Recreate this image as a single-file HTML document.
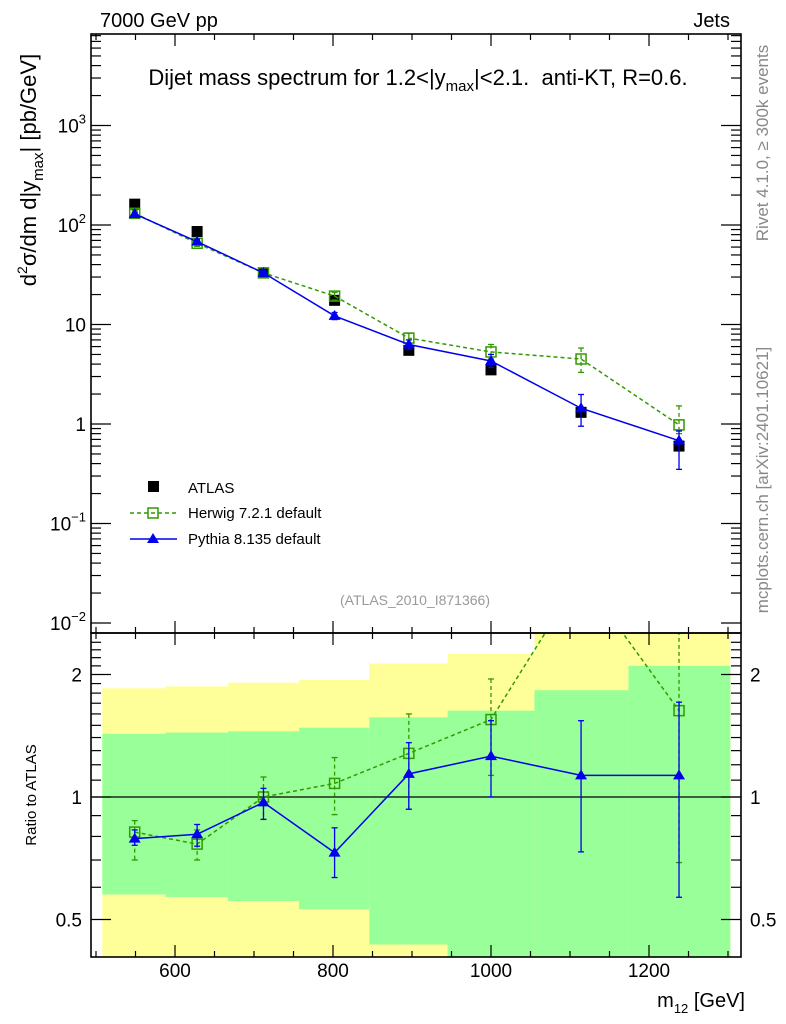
<!DOCTYPE html>
<html><head><meta charset="utf-8"><style>
body{margin:0;background:#fff;}
svg{display:block;font-family:"Liberation Sans",sans-serif;}
</style></head><body>
<svg id="c" width="786" height="1024" xmlns="http://www.w3.org/2000/svg">
<text x="100" y="27" font-size="20">7000 GeV pp</text>
<text x="730" y="27" font-size="20" text-anchor="end">Jets</text>
<text x="418" y="85" font-size="22" text-anchor="middle">Dijet mass spectrum for 1.2&lt;|y<tspan font-size="15" dy="6">max</tspan><tspan dy="-6">|&lt;2.1.&#160;&#160;anti-KT, R=0.6.</tspan></text>
<text transform="translate(36,170) rotate(-90)" font-size="22" text-anchor="middle">d<tspan font-size="14" dy="-9">2</tspan><tspan dy="9">σ/dm d|y</tspan><tspan font-size="15" dy="7">max</tspan><tspan dy="-7">| [pb/GeV]</tspan></text>
<text transform="translate(36,795) rotate(-90)" font-size="15" text-anchor="middle">Ratio to ATLAS</text>
<text transform="translate(768,143) rotate(-90)" font-size="17" fill="#888" text-anchor="middle">Rivet 4.1.0, ≥ 300k events</text>
<text transform="translate(768,480) rotate(-90)" font-size="17" fill="#888" text-anchor="middle">mcplots.cern.ch [arXiv:2401.10621]</text>
<text x="415" y="605" font-size="14" fill="#999" text-anchor="middle">(ATLAS_2010_I871366)</text>
<text x="745" y="1007" font-size="20" text-anchor="end">m<tspan font-size="13" dy="6">12</tspan><tspan dy="-6"> [GeV]</tspan></text>
<g>
<rect x="148" y="481" width="11" height="11" fill="#000"/>
<text x="188" y="493" font-size="15">ATLAS</text>
<line x1="130" y1="513" x2="177" y2="513" stroke="#339900" stroke-width="1.5" stroke-dasharray="4,3"/>
<rect x="148" y="508" width="10" height="10" fill="none" stroke="#339900" stroke-width="1.5"/>
<text x="188" y="518" font-size="15">Herwig 7.2.1 default</text>
<line x1="130" y1="539" x2="177" y2="539" stroke="#0000ee" stroke-width="1.5"/>
<path d="M153,533 L159,543 L147,543 Z" fill="#0000ee"/>
<text x="188" y="544" font-size="15">Pythia 8.135 default</text>
</g>
</svg>
<script>
const masses=[549,628,712,802,896,1000,1114,1238];
const atlas=[162,86,33,17.5,5.5,3.5,1.31,0.60];
const herwig=[131,65.5,33,19.3,7.3,5.3,4.5,0.98];
const herwigHi=[140,70,35,21,8.2,6.3,5.8,1.52];
const herwigLo=[122,61,31,17.6,6.4,4.5,3.3,0.8];
const pythia=[129,68,33,12.2,6.3,4.3,1.44,0.68];
const pythiaHi=[135,72,35,13.2,7,5,1.98,0.85];
const pythiaLo=[123,64,31,11.2,5.6,3.7,0.95,0.35];
const binEdges=[508,588,667,757,846,945,1055,1174,1303];
const yellowHi=[1.85,1.87,1.91,1.94,2.13,2.25,3,3];
const greenHi=[1.43,1.44,1.45,1.48,1.57,1.63,1.83,2.10];
const greenLo=[0.576,0.568,0.555,0.53,0.434,0.3,0.3,0.3];
const yellowLo=[0.3,0.3,0.3,0.3,0.3,0.3,0.3,0.3];
const rPythia=[0.79,0.81,0.97,0.73,1.14,1.26,1.13,1.13];
const rPythiaHi=[0.83,0.856,1.05,0.84,1.36,1.54,1.54,1.71];
const rPythiaLo=[0.761,0.757,0.881,0.634,0.933,1.0,0.733,0.567];
const rHerwig=[0.82,0.766,1.0,1.08,1.28,1.55,3.5,1.63];
const rHerwigHi=[0.875,0.83,1.12,1.25,1.6,1.95,4,3];
const rHerwigLo=[0.70,0.70,0.881,0.905,0.933,1.13,3,0.69];
const xTicks=[600,800,1000,1200];
const mainTicks=[["10","3"],["10","2"],["10",""],["1",""],["10","−1"],["10","−2"]];
const mainTickVals=[1000,100,10,1,0.1,0.01];
const ratioTicks=["2","1","0.5"];
const ratioTickVals=[2,1,0.5];

const svg=document.getElementById('c');
const NS='http://www.w3.org/2000/svg';
const L=91,R=741,T=34,MB=633,RB=957;
const xs=m=>175+(m-600)*0.79;
const ym=v=>424-99.5*Math.log10(v);
const yrRaw=r=>797-122.5*Math.log2(r);
function mk(tag,attrs,parent){const e=document.createElementNS(NS,tag);for(const k in attrs)e.setAttribute(k,attrs[k]);(parent||svg).appendChild(e);return e;}

const bands=mk('g',{});


for(let i=0;i<8;i++){
  const x1=xs(binEdges[i]),x2=xs(binEdges[i+1]);
  const top=Math.max(MB,yrRaw(yellowHi[i])),bot=Math.min(RB,yrRaw(yellowLo[i]));
  const y=mk('rect',{x:x1,y:top,width:x2-x1,height:bot-top,fill:'#ffff99'},bands);
  
  
  const gt=Math.max(MB,yrRaw(greenHi[i])),gb=Math.min(RB,yrRaw(greenLo[i]));
  const g=mk('rect',{x:x1,y:gt,width:x2-x1,height:gb-gt,fill:'#99ff99'},bands);
  
  
}
const one=mk('line',{x1:L,x2:R,y1:yrRaw(1),y2:yrRaw(1),stroke:'#000','stroke-width':1.2});



const defs=mk('defs',{});
const cp=mk('clipPath',{id:'rc'},defs);mk('rect',{x:L,y:MB,width:R-L,height:RB-MB},cp);

function series(vals,hi,lo,yf,color,dash,marker,name,clip){
  const g=mk('g',clip?{'clip-path':'url(#rc)'}:{});
  
  
  if(color){
    const pts=masses.map((m,i)=>xs(m)+','+yf(vals[i])).join(' ');
    mk('polyline',{points:pts,fill:'none',stroke:color,'stroke-width':1.5,'stroke-dasharray':dash||'none'},g);
  }
  masses.forEach((m,i)=>{
    const x=xs(m),c=color||'#000';
    if(hi){
      mk('line',{x1:x,x2:x,y1:yf(hi[i]),y2:yf(lo[i]),stroke:c,'stroke-width':1.3,'stroke-dasharray':dash||'none'},g);
      mk('line',{x1:x-3,x2:x+3,y1:yf(hi[i]),y2:yf(hi[i]),stroke:c,'stroke-width':1.3},g);
      mk('line',{x1:x-3,x2:x+3,y1:yf(lo[i]),y2:yf(lo[i]),stroke:c,'stroke-width':1.3},g);
    }
    const y=yf(vals[i]);let e;
    if(marker==='sq') e=mk('rect',{x:x-5.5,y:y-5.5,width:11,height:11,fill:'#000'},g);
    else if(marker==='osq') e=mk('rect',{x:x-5,y:y-5,width:10,height:10,fill:'none',stroke:color,'stroke-width':1.5},g);
    else e=mk('path',{d:`M${x},${y-6}L${x+6},${y+4}L${x-6},${y+4}Z`,fill:color},g);
    
    
  });
}
series(atlas,null,null,ym,null,null,'sq','atlas-data');
series(herwig,herwigHi,herwigLo,ym,'#339900','4,3','osq','herwig-main');
series(pythia,pythiaHi,pythiaLo,ym,'#0000ee',null,'tri','pythia-main');
series(rHerwig,rHerwigHi,rHerwigLo,yrRaw,'#339900','4,3','osq','herwig-ratio',true);
series(rPythia,rPythiaHi,rPythiaLo,yrRaw,'#0000ee',null,'tri','pythia-ratio',true);

[[T,MB],[MB,RB]].forEach(([a,b],k)=>{
  const f=mk('rect',{x:L,y:a,width:R-L,height:b-a,fill:'none',stroke:'#000','stroke-width':1.6});
  
  
  for(let m=500;m<=1300;m+=50){
    const x=xs(m),len=(m%200===0)?12:6;
    mk('line',{x1:x,x2:x,y1:a,y2:a+len,stroke:'#000','stroke-width':1.2});
    mk('line',{x1:x,x2:x,y1:b,y2:b-len,stroke:'#000','stroke-width':1.2});
  }
});
for(let d=-2;d<=3;d++){for(let k=1;k<=9;k++){
  const v=k*Math.pow(10,d),y=ym(v);if(y<T||y>MB)continue;
  const len=k===1?20:10;
  mk('line',{x1:L,x2:L+len,y1:y,y2:y,stroke:'#000','stroke-width':1.2});
  mk('line',{x1:R,x2:R-len,y1:y,y2:y,stroke:'#000','stroke-width':1.2});
}}
mainTicks.forEach((t,i)=>{
  const y=ym(mainTickVals[i]);
  const e=mk('text',{x:86,y:y+7,'font-size':19,'text-anchor':'end'});
  
  
  if(t[1]){e.innerHTML=`${t[0]}<tspan font-size="13" dy="-9">${t[1]}</tspan>`;}else e.textContent=t[0];
});
for(let r=0.4;r<=2.5;r+=0.1){
  const y=yrRaw(r);if(y<MB||y>RB)continue;
  const maj=Math.abs(r-1)<0.01||Math.abs(r-2)<0.01||Math.abs(r-0.5)<0.01;
  const len=maj?20:10;
  mk('line',{x1:L,x2:L+len,y1:y,y2:y,stroke:'#000','stroke-width':1.2});
  mk('line',{x1:R,x2:R-len,y1:y,y2:y,stroke:'#000','stroke-width':1.2});
}
ratioTicks.forEach((t,i)=>{
  const y=yrRaw(ratioTickVals[i])+7;
  const a=mk('text',{x:82,y:y,'font-size':19,'text-anchor':'end'});a.textContent=t;
  
  
  const b=mk('text',{x:750,y:y,'font-size':19});b.textContent=t;
  
  
});
xTicks.forEach(m=>{
  const e=mk('text',{x:xs(m),y:977,'font-size':19,'text-anchor':'middle'});e.textContent=m;
  
  
});
</script>
</body></html>
